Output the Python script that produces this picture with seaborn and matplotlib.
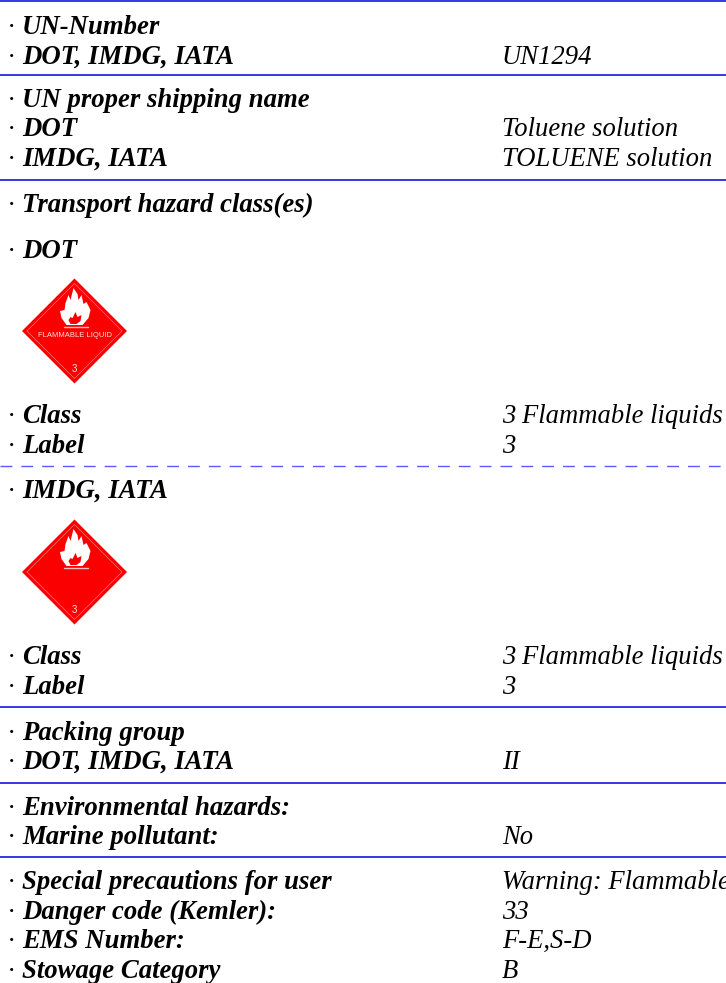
import matplotlib
matplotlib.use("Agg")
import matplotlib.pyplot as plt
import seaborn as sns
import numpy as np

labels = ["UN-Number", "DOT, IMDG, IATA", "UN proper shipping name", "DOT", "IMDG, IATA",
          "Transport hazard class(es)", "DOT", "Class", "Label", "IMDG, IATA", "Class", "Label",
          "Packing group", "DOT, IMDG, IATA", "Environmental hazards:", "Marine pollutant:",
          "Special precautions for user", "Danger code (Kemler):", "EMS Number:", "Stowage Category"]
values = ["", "UN1294", "", "Toluene solution", "TOLUENE solution",
          "", "", "3 Flammable liquids", "3", "", "3 Flammable liquids", "3",
          "", "II", "", "No",
          "Warning: Flammable liquids", "33", "F-E,S-D", "B"]
row_y = [34, 64, 107, 136, 166, 212, 258, 423, 453, 498, 664, 694, 740, 769, 815, 844, 889, 919, 948, 978]
solid_y = [1, 75, 180, 707, 783, 857]
dashed_y = [466]

# placard outlines, pixels relative to the diamond centre
flame_x = np.array([-1, 3, 4, 7, 9, 12, 16, 14, 8, -8, -13, -14.5, -10, -9, -6, -4, -1])
flame_y = np.array([-43, -37, -31, -36, -27, -29, -21, -13, -6, -6, -13, -20, -21, -28, -36, -31, -43])
inner_x = np.array([1, 3, 7, 6, 2, -4, -6, -4, -2, 1])
inner_y = np.array([-19, -14, -16, -10, -7, -7, -11, -14, -13, -19])

sns.set_theme(style="white")
plt.rcParams['font.family'] = ['Liberation Serif', 'DejaVu Serif']

fig, ax = plt.subplots(figsize=(7.26, 9.83), dpi=100)
ax.set_position([0, 0, 1, 1])
ax.set_xlim(0, 726)
ax.set_ylim(983, 0)
ax.axis("off")

# 1. Text rows
for y, lab, val in zip(row_y, labels, values):
    ax.text(8, y, "·", fontsize=19, style="italic", va="baseline", color="black")
    ax.text(22, y, lab, fontsize=19.3, style="italic", fontweight="bold", va="baseline", color="black")
    if val:
        ax.text(502, y, val, fontsize=19.2, style="italic", va="baseline", color="black", clip_on=True)

# 2. Separator lines
ax.hlines(solid_y, 0, 726, color="#0000e0", lw=1.1)
ax.hlines(dashed_y, 0, 726, color="#5a5aff", lw=1.0, linestyles=(0, (8.5, 6.5)))


def draw_placard(cx, cy, caption):
    ax.fill([cx - 52.5, cx, cx + 52.5, cx], [cy, cy - 52.5, cy, cy + 52.5], color="#fb0000", lw=0)
    ax.plot([cx - 47.5, cx, cx + 47.5, cx, cx - 47.5], [cy, cy - 47.5, cy, cy + 47.5, cy],
            color="#ff9090", lw=0.4)
    ax.fill(cx + flame_x, cy + flame_y, color="white", lw=0)
    ax.fill(cx + inner_x, cy + inner_y, color="#fb0000", lw=0)
    ax.plot([cx - 11, cx + 13], [cy - 4, cy - 4], color="#ffc0c0", lw=1.0)
    if caption:
        ax.text(cx, cy + 4.5, caption, family="Liberation Sans", fontsize=5.5, color="#ffe0e0",
                ha="center", va="center")
    ax.text(cx, cy + 38, "3", family="Liberation Sans", fontsize=7, color="#ffe0e0",
            ha="center", va="center")


# 3. Hazard placards
draw_placard(74.5, 331, "FLAMMABLE LIQUID")
draw_placard(74.5, 572, "")

fig.savefig("out.png", dpi=100)
